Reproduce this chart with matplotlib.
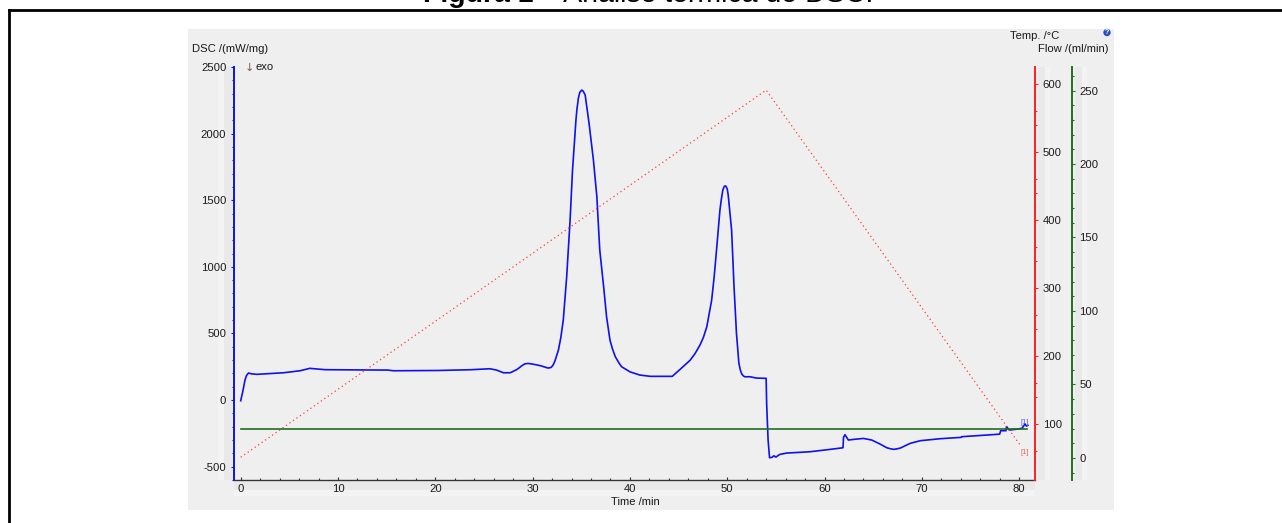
import matplotlib
matplotlib.use("Agg")
import matplotlib.pyplot as plt
from matplotlib.patches import Rectangle, Circle
from matplotlib.ticker import MultipleLocator, FixedLocator

plt.rcParams['font.family'] = ['Liberation Sans', 'DejaVu Sans']
plt.rcParams['axes.unicode_minus'] = False

# --- data ---
dsc_time = [0, 0.2, 0.44, 0.6, 0.8, 1.1, 1.64, 4.4, 6.1, 7.1, 8.7, 15.1, 15.7, 20.3, 23.7, 25.6, 26.3, 27,
            27.7, 28.4, 28.9, 29.2, 29.55, 30.0, 30.8, 31.6, 31.9, 32.1, 32.3, 32.65, 32.9, 33.15, 33.5,
            33.85, 34.1, 34.45, 34.55, 34.7, 34.85, 35.05, 35.2, 35.4, 35.8,
            36.25, 36.6, 36.9, 37.3, 37.6, 37.95, 38.2, 38.5, 38.9, 39.15, 40, 41, 42.1, 44.35, 45.15, 46.2,
            46.7, 47.2, 47.55, 47.9, 48.4, 48.65, 48.9, 49.25, 49.4, 49.55, 49.7, 49.85, 50.0, 50.1, 50.45,
            50.7, 50.95, 51.2, 51.35, 51.5, 51.65, 51.8, 52.35,
            53.0, 54.0, 54.05, 54.2, 54.35, 54.6, 54.8, 55, 55.4, 56.1, 58.5, 60.6, 61.9, 61.95, 62.1,
            62.45, 63, 64, 64.85, 65.7, 66.4, 66.8, 67.1, 67.4, 67.8, 68.8, 69.85, 71.9, 74.05, 74.1, 78, 78.1,
            78.65, 78.7, 79, 79.8, 80.3, 80.6, 80.75, 80.9]
dsc_values = [-5, 60, 150, 185, 203, 197, 193, 205, 220, 238, 228, 225, 220, 222, 228, 235, 225, 205,
              205, 230, 258, 272, 275, 270, 258, 240, 245, 262, 295, 375, 470, 600, 925,
              1350, 1725, 2100, 2180, 2265, 2310, 2327, 2318, 2290, 2077,
              1800, 1527, 1126, 850, 625, 450, 385, 325, 275, 250, 212, 188, 178, 178, 230, 300,
              350, 413, 470, 550, 750, 920, 1126, 1426, 1510, 1577, 1605, 1607, 1585, 1539, 1276,
              850, 500, 275, 225, 195, 182, 175, 175,
              165, 163, -25, -300, -433, -430, -418, -428, -408, -398, -388, -370, -358, -280, -260,
              -300, -295, -288, -300, -330, -358, -366, -370, -367, -360, -325, -305, -290, -280, -275, -256, -230,
              -230, -200, -225, -218, -212, -180, -195, -190]
temp_time = [0, 54, 80.1]
temp_values = [51, 591, 69]
flow_time = [0, 80.8]
flow_values = [20, 20]

x_ticks = [0, 10, 20, 30, 40, 50, 60, 70, 80]
dsc_ticks = [-500, 0, 500, 1000, 1500, 2000, 2500]
temp_ticks = [100, 200, 300, 400, 500, 600]
flow_ticks = [0, 50, 100, 150, 200, 250]

W, H = 1282, 523
BLUE, RED, GREEN = '#1010F0', '#FF2020', '#207020'
TXT = '#1a1a1a'

fig = plt.figure(figsize=(W / 100, H / 100), dpi=100, facecolor='white')


def fx(px):
    return px / W


def fy(py):
    return 1 - py / H


def band(x0, y0, x1, y1, color):
    fig.add_artist(Rectangle((fx(x0), fy(y1)), (x1 - x0) / W, (y1 - y0) / H,
                             transform=fig.transFigure, fc=color, ec='none', zorder=-5))


# page frame
fig.add_artist(plt.Line2D([fx(9), 1], [fy(10), fy(10)], color='black', lw=2))
fig.add_artist(plt.Line2D([fx(9), fx(9)], [fy(10), 0], color='black', lw=2))

# title, clipped by the top edge like the reference
fig.text(fx(423), fy(2), 'Figura 1', fontsize=20.5, fontweight='bold', ha='left',
         va='baseline', color='black')
fig.text(fx(533), fy(2), ' \u2013 An\u00e1lise t\u00e9rmica do DSC.', fontsize=20.5, ha='left',
         va='baseline', color='black')

# software panel
band(188, 29, 1114, 510, '#EFEFEF')
for a, b, c in [(218, 224, '#F3F3F3'), (224, 232, '#E9E9E9'), (1038, 1045, '#E9E9E9'),
                (1045, 1050, '#F3F3F3'), (1075, 1082, '#E9E9E9'), (1082, 1087, '#F3F3F3')]:
    band(a, 67, b, 480, c)
band(234, 482, 1035, 490, '#E9E9E9')
band(234, 490, 1035, 496, '#F3F3F3')

rect = [fx(234), fy(480), (1035 - 234) / W, (480 - 67) / H]
ax = fig.add_axes(rect, facecolor='none')
ax_t = ax.twinx()
ax_f = ax.twinx()
for a in (ax_t, ax_f):
    a.set_facecolor('none')

l_dsc, = ax.plot(dsc_time, dsc_values, color=BLUE, lw=1.2, zorder=3)
ax_t.plot(temp_time, temp_values, color=RED, lw=0.9, ls=(0, (1, 2.4)), alpha=0.85, zorder=3)
ax_f.plot(flow_time, flow_values, color=GREEN, lw=1.2, zorder=2)

ax.set_xlim(-0.69, 81.63)
ax.set_ylim(-600, 2500)
ax_t.set_ylim(17.6, 625)
ax_f.set_ylim(-15, 266)

ax.set_xticks(x_ticks)
ax.xaxis.set_minor_locator(MultipleLocator(2))
ax.set_yticks(dsc_ticks)
ax.yaxis.set_minor_locator(MultipleLocator(100))
ax_t.set_yticks(temp_ticks)
ax_t.yaxis.set_minor_locator(FixedLocator([t + d for t in temp_ticks for d in (-40, 40)]))
ax_f.set_yticks(flow_ticks)
ax_f.yaxis.set_minor_locator(MultipleLocator(10))

for s in ('top', 'right'):
    ax.spines[s].set_visible(False)
ax.spines['left'].set_color(BLUE)
ax.spines['left'].set_linewidth(1.4)
ax.spines['bottom'].set_color('#333333')
ax.spines['bottom'].set_linewidth(1.0)

for a, col in ((ax_t, RED), (ax_f, GREEN)):
    for s in ('top', 'left', 'bottom'):
        a.spines[s].set_visible(False)
    a.spines['right'].set_color(col)
    a.spines['right'].set_linewidth(1.4)
ax_f.spines['right'].set_position(('outward', 36.7 * 0.72))

lab = dict(labelsize=8.1, labelcolor=TXT, pad=3, width=0.8)
ax.tick_params(axis='x', which='major', direction='in', length=2.2, color='#333333', **lab)
ax.tick_params(axis='x', which='minor', direction='in', length=1.5, width=0.8, color='#333333')
ax.tick_params(axis='y', which='major', direction='out', length=2.5, color=BLUE, **lab)
ax.tick_params(axis='y', which='minor', direction='out', length=1.2, width=0.8, color=BLUE)
ax_t.tick_params(axis='y', which='major', direction='out', length=2.5, color=RED, **lab)
ax_t.tick_params(axis='y', which='minor', direction='out', length=1.2, width=0.8, color=RED)
ax_f.tick_params(axis='y', which='major', direction='out', length=2.5, color=GREEN, **lab)
ax_f.tick_params(axis='y', which='minor', direction='out', length=1.2, width=0.8, color=GREEN)

t = dict(fontsize=8.1, color=TXT)
fig.text(fx(192), fy(48.7), 'DSC /(mW/mg)', ha='left', va='center', **t)
fig.text(fx(1010), fy(36), 'Temp. /\u00b0C', ha='left', va='center', **t)
fig.text(fx(1108), fy(48.7), 'Flow /(ml/min)', ha='right', va='center', **t)
fig.text(fx(635), fy(502), 'Time /min', ha='center', va='center', **t)
fig.text(fx(244.5), fy(67.5), '\u2193', ha='left', va='center', fontsize=8.1, color='#8a5a48',
         family=['DejaVu Sans'])
fig.text(fx(255), fy(67.5), 'exo', ha='left', va='center', **t)

fig.text(fx(1024.5), fy(422.5), '[1]', ha='center', va='center', fontsize=5.5, color='#5a5ae0')
fig.text(fx(1025), fy(453), '[1]', ha='center', va='center', fontsize=5.5, color='#f06060')

fig.add_artist(Circle((1107, H - 32.5), 3.7, transform=None, fc='#2A52BE', ec='none'))
fig.text(fx(1107), fy(32.5), '?', ha='center', va='center', fontsize=5, color='white',
         fontweight='bold')

fig.savefig('out.png', dpi=100, facecolor='white')
